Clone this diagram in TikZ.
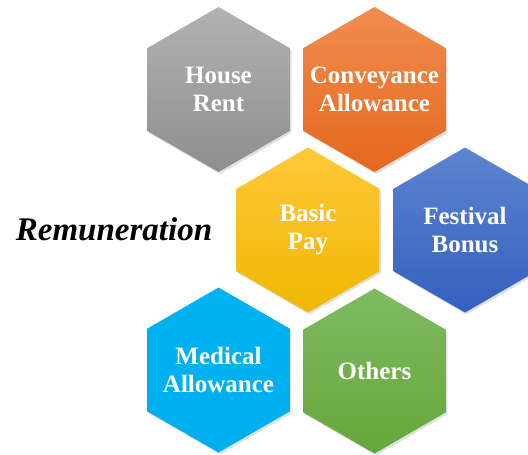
\documentclass[tikz,border=0pt]{standalone}
\usepackage{fontspec}
\setmainfont{Liberation Serif}
\usetikzlibrary{shapes.geometric,shadows}

\definecolor{rentA}{HTML}{B2B2B2}
\definecolor{rentB}{HTML}{8E8E8E}
\definecolor{convA}{HTML}{F18D50}
\definecolor{convB}{HTML}{E5671C}
\definecolor{basicA}{HTML}{FFC83A}
\definecolor{basicB}{HTML}{EFB700}
\definecolor{festA}{HTML}{5E84D0}
\definecolor{festB}{HTML}{3360BF}
\definecolor{medA}{HTML}{00B2F0}
\definecolor{medB}{HTML}{00AEEE}
\definecolor{othA}{HTML}{80BA62}
\definecolor{othB}{HTML}{65A739}

\tikzset{
  hexa/.style={regular polygon, regular polygon sides=6, shape border rotate=30,
    minimum size=165pt, inner sep=0pt, draw=none,
    drop shadow={opacity=0.25, shadow xshift=1.5pt, shadow yshift=-2pt}},
  hexlabel/.style={text=white, align=center, font=\fontsize{25}{28}\selectfont\bfseries},
  titletext/.style={font=\fontsize{33}{38}\selectfont\bfseries\itshape}
}

\begin{document}
\begin{tikzpicture}[x=1pt,y=-1pt]
            \clip (0,0) rectangle (528,455);
            \fill[white] (0,0) rectangle (528,455);
            \foreach \nm/\x/\y/\ca/\cb/\txt in {
                rent/218.5/89.5/rentA/rentB/{House\\Rent},
                conv/374.5/89.5/convA/convB/{Conveyance\\Allowance},
                basic/308/230/basicA/basicB/{Basic\\Pay},
                fest/465/230/festA/festB/{Festival\\Bonus},
                med/218.5/370/medA/medB/{Medical\\Allowance},
                oth/374.5/371/othA/othB/{Others}}
            {
                \node[hexa, top color=\ca, bottom color=\cb] (\nm) at (\x,\y) {};
                \node[hexlabel] (\nm-txt) at (\nm) {\txt};
            }
            \node[titletext] (title) at (114,229) {Remuneration};
        \end{tikzpicture}
\end{document}
